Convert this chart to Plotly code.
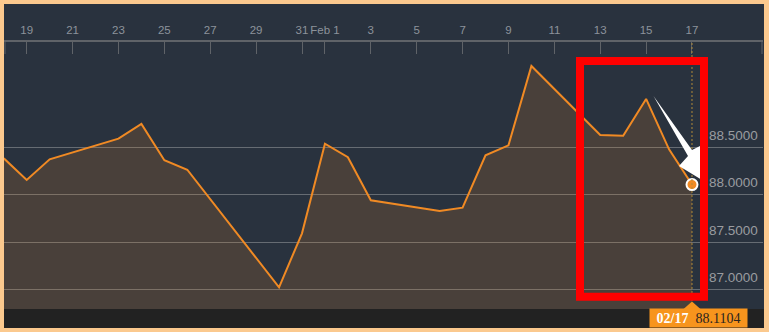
import plotly.graph_objects as go

# ---- data ----
dates = ["2017-01-18", "2017-01-19", "2017-01-20", "2017-01-23", "2017-01-24",
         "2017-01-25", "2017-01-26", "2017-01-30", "2017-01-31", "2017-02-01",
         "2017-02-02", "2017-02-03", "2017-02-06", "2017-02-07", "2017-02-08",
         "2017-02-09", "2017-02-10", "2017-02-13", "2017-02-14", "2017-02-15",
         "2017-02-16", "2017-02-17"]
values = [88.388, 88.159, 88.377, 88.595, 88.751,
          88.367, 88.267, 87.024, 87.595, 88.542,
          88.399, 87.944, 87.831, 87.866, 88.420,
          88.525, 89.364, 88.634, 88.627, 89.015,
          88.483, 88.1104]
x_tick_vals = ["2017-01-19", "2017-01-21", "2017-01-23", "2017-01-25", "2017-01-27",
               "2017-01-29", "2017-01-31", "2017-02-01", "2017-02-03", "2017-02-05",
               "2017-02-07", "2017-02-09", "2017-02-11", "2017-02-13", "2017-02-15",
               "2017-02-17"]
x_tick_text = ["19", "21", "23", "25", "27", "29", "31", "Feb 1", "3", "5",
               "7", "9", "11", "13", "15", "17"]
y_tick_vals = [87.0, 87.5, 88.0, 88.5]
last_label = "02/17"

# ---- geometry helpers (pixel -> paper) ----
W, H = 769, 332
ML, MR, MT, MB = 4, 6, 42, 23
PW, PH = W - ML - MR, H - MT - MB


def X(px):
    return (px - ML) / PW


def Y(py):
    return (H - MB - py) / PH


BG = "#29323e"
ORANGE = "#f08a24"

fig = go.Figure()
fig.add_trace(go.Scatter(
    x=dates, y=values, mode="lines",
    line=dict(color=ORANGE, width=2),
    fill="tozeroy", fillcolor="rgba(240,140,40,0.16)",
    hoverinfo="skip", showlegend=False))
fig.add_trace(go.Scatter(
    x=[dates[-1]], y=[values[-1]], mode="markers",
    marker=dict(color=ORANGE, size=11, line=dict(color="white", width=2)),
    hoverinfo="skip", showlegend=False))

shapes = [
    # dark panel
    dict(type="rect", xref="paper", yref="paper", x0=X(4), x1=X(764), y0=Y(328), y1=Y(4),
         fillcolor=BG, line=dict(width=0), layer="below"),
    # bottom band
    dict(type="rect", xref="paper", yref="paper", x0=X(4), x1=X(764), y0=Y(328), y1=Y(309),
         fillcolor="#222222", line=dict(width=0), layer="below"),
    # edge ticks
    dict(type="line", xref="paper", yref="paper", x0=X(5), x1=X(5), y0=Y(42), y1=Y(54),
         line=dict(color="#5f6368", width=1)),
    dict(type="line", xref="paper", yref="paper", x0=X(762), x1=X(762), y0=Y(42), y1=Y(54),
         line=dict(color="#5f6368", width=1)),
    # current date dotted line
    dict(type="line", xref="x", yref="paper", x0=dates[-1], x1=dates[-1], y0=0, y1=1,
         line=dict(color="#b08a3a", width=1, dash="2px,2px")),
    # pointer triangle
    dict(type="path", xref="paper", yref="paper",
         path=f"M {X(683)},{Y(309.5)} L {X(692)},{Y(301.5)} L {X(701)},{Y(309.5)} Z",
         fillcolor="#f7941d", line=dict(width=0)),
    # white arrow
    dict(type="path", xref="paper", yref="paper",
         path=(f"M {X(653.5)},{Y(96)} L {X(692)},{Y(150)} L {X(704)},{Y(144)} "
               f"L {X(702)},{Y(180)} L {X(679)},{Y(166)} L {X(688)},{Y(156)} Z"),
         fillcolor="white", line=dict(width=0)),
    # red box
    dict(type="rect", xref="paper", yref="paper", x0=X(580), x1=X(704), y0=Y(296.7), y1=Y(61),
         line=dict(color="#ff0000", width=8)),
]

# y tick labels drawn just above their gridlines (as in the reference)
y_annotations = [dict(
    xref="paper", yref="y", x=X(707), y=v, yshift=12,
    xanchor="left", yanchor="middle", showarrow=False,
    text=f"{v:.4f}",
    font=dict(family="Liberation Sans", size=13.5, color="#9a9ca0")) for v in y_tick_vals]

fig.update_layout(
    width=W, height=H,
    margin=dict(l=ML, r=MR, t=MT, b=MB, pad=0),
    paper_bgcolor="#fbc98e",
    plot_bgcolor=BG,
    shapes=shapes,
    xaxis=dict(
        type="date", side="top",
        range=["2017-01-18 00:15", "2017-02-20 02:17"],
        tickvals=x_tick_vals, ticktext=x_tick_text, tickangle=0,
        ticks="inside", ticklen=12, tickwidth=1, tickcolor="#5f6368",
        showline=True, linecolor="#5f6368", linewidth=1.5,
        showgrid=False, zeroline=False, automargin=False,
        ticklabelstandoff=2,
        tickfont=dict(family="Liberation Sans", size=11.5, color="#8c939b"),
        fixedrange=True),
    yaxis=dict(
        side="right", range=[86.795, 89.617],
        tickvals=y_tick_vals, showticklabels=False, ticks="",
        showgrid=True, gridcolor="#666c73", gridwidth=1,
        zeroline=False, showline=False, automargin=False,
        fixedrange=True),
    annotations=y_annotations + [dict(
        xref="paper", yref="paper", x=X(698.3), y=Y(318.2),
        xanchor="center", yanchor="middle", showarrow=False,
        text=f"<b>{last_label}</b>&nbsp;&nbsp;<span style='color:#2a2420'>{values[-1]:.4f}</span>",
        font=dict(family="Liberation Serif", size=14, color="white"),
        bgcolor="#f7941d", width=97, height=18, borderpad=0)],
)

fig.write_html("out.html")
